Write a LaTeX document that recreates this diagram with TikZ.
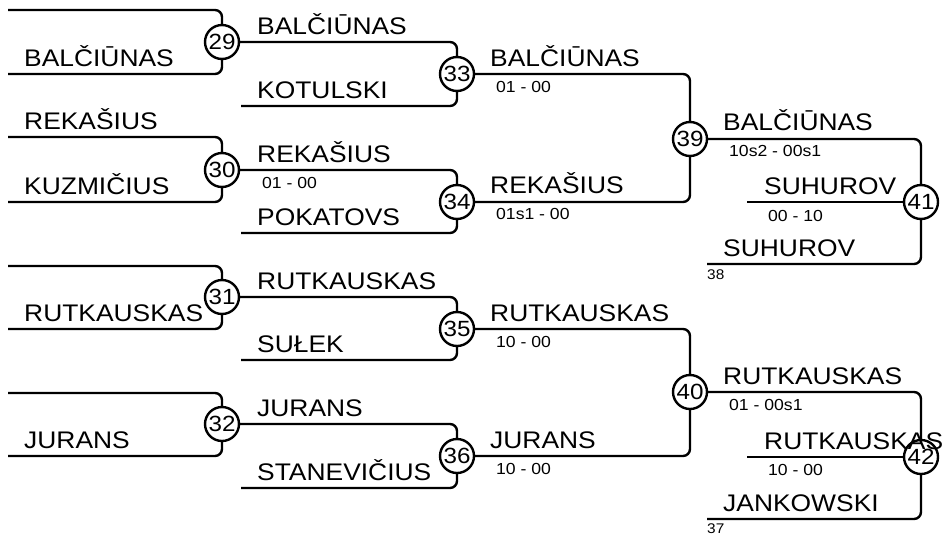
\documentclass[tikz,border=0pt]{standalone}
\usepackage{fontspec}
\setmainfont{Liberation Sans}[FakeStretch=1.1]
\tikzset{
  wire/.style={line width=2.4pt, rounded corners=7pt},
  mnum/.style={circle, draw, line width=2.4pt, fill=white, minimum size=34pt, inner sep=0pt, font=\fontsize{22}{22}\selectfont},
  pname/.style={anchor=base west, inner sep=0pt, font=\fontsize{24}{24}\selectfont},
  pscore/.style={anchor=base west, inner sep=0pt, font=\fontsize{16}{16}\selectfont},
  pseed/.style={anchor=base west, inner sep=0pt, font=\fontsize{14}{14}\selectfont},
}
\begin{document}
\begin{tikzpicture}[x=1pt,y=-1pt]
\useasboundingbox (0,0) rectangle (944,533);
% match circles
\node[mnum] (m29) at (222,42) {29};
\node[mnum] (m30) at (222,170) {30};
\node[mnum] (m31) at (222,297) {31};
\node[mnum] (m32) at (222,424) {32};
\node[mnum] (m33) at (457,74) {33};
\node[mnum] (m34) at (457,202) {34};
\node[mnum] (m35) at (457,329) {35};
\node[mnum] (m36) at (457,456) {36};
\node[mnum] (m39) at (690,139) {39};
\node[mnum] (m40) at (690,392) {40};
\node[mnum] (m41) at (921,202) {41};
\node[mnum] (m42) at (921,457) {42};
% line starts
\coordinate (t29) at (8,10);   \coordinate (b29) at (8,74);
\coordinate (t30) at (8,137);  \coordinate (b30) at (8,202);
\coordinate (t31) at (8,266);  \coordinate (b31) at (8,329);
\coordinate (t32) at (8,393);  \coordinate (b32) at (8,456);
\coordinate (b33) at (241,106); \coordinate (b34) at (241,233);
\coordinate (b35) at (241,360); \coordinate (b36) at (241,488);
\coordinate (c41) at (747,202); \coordinate (b41) at (707,264);
\coordinate (c42) at (747,457); \coordinate (b42) at (707,519);
% round 1
\draw[wire] (t29) -| (m29.north); \draw[wire] (b29) -| (m29.south);
\draw[wire] (t30) -| (m30.north); \draw[wire] (b30) -| (m30.south);
\draw[wire] (t31) -| (m31.north); \draw[wire] (b31) -| (m31.south);
\draw[wire] (t32) -| (m32.north); \draw[wire] (b32) -| (m32.south);
% round 2
\draw[wire] (m29.east) -| (m33.north); \draw[wire] (b33) -| (m33.south);
\draw[wire] (m30.east) -| (m34.north); \draw[wire] (b34) -| (m34.south);
\draw[wire] (m31.east) -| (m35.north); \draw[wire] (b35) -| (m35.south);
\draw[wire] (m32.east) -| (m36.north); \draw[wire] (b36) -| (m36.south);
% round 3
\draw[wire] (m33.east) -| (m39.north); \draw[wire] (m34.east) -| (m39.south);
\draw[wire] (m35.east) -| (m40.north); \draw[wire] (m36.east) -| (m40.south);
% round 4
\draw[wire] (m39.east) -| (m41.north); \draw[wire] (c41) -- (m41.west); \draw[wire] (b41) -| (m41.south);
\draw[wire] (m40.east) -| (m42.north); \draw[wire] (c42) -- (m42.west); \draw[wire] (b42) -| (m42.south);
% names round 1
\node[pname] (n1) at (24,66) {BALČIŪNAS};
\node[pname] (n2) at (24,129) {REKAŠIUS};
\node[pname] (n3) at (24,194) {KUZMIČIUS};
\node[pname] (n4) at (24,321) {RUTKAUSKAS};
\node[pname] (n5) at (24,448) {JURANS};
% names round 2
\node[pname] (n6) at (257,34) {BALČIŪNAS};
\node[pname] (n7) at (257,98) {KOTULSKI};
\node[pname] (n8) at (257,162) {REKAŠIUS};
\node[pscore] (s8) at (262,188) {01 - 00};
\node[pname] (n9) at (257,225) {POKATOVS};
\node[pname] (n10) at (257,289) {RUTKAUSKAS};
\node[pname] (n11) at (257,352) {SUŁEK};
\node[pname] (n12) at (257,416) {JURANS};
\node[pname] (n13) at (257,480) {STANEVIČIUS};
% names round 3
\node[pname] (n14) at (490,66) {BALČIŪNAS};
\node[pscore] (s14) at (496,92) {01 - 00};
\node[pname] (n15) at (490,193) {REKAŠIUS};
\node[pscore] (s15) at (496,219) {01s1 - 00};
\node[pname] (n16) at (490,321) {RUTKAUSKAS};
\node[pscore] (s16) at (496,347) {10 - 00};
\node[pname] (n17) at (490,448) {JURANS};
\node[pscore] (s17) at (496,474) {10 - 00};
% names round 4
\node[pname] (n18) at (723,130) {BALČIŪNAS};
\node[pscore] (s18) at (729,156) {10s2 - 00s1};
\node[pname] (n19) at (764,194) {SUHUROV};
\node[pscore] (s19) at (768,221) {00 - 10};
\node[pname] (n20) at (723,256) {SUHUROV};
\node[pseed] (d20) at (707,279) {38};
\node[pname] (n21) at (723,384) {RUTKAUSKAS};
\node[pscore] (s21) at (729,410) {01 - 00s1};
\node[pname] (n22) at (764,449) {RUTKAUSKAS};
\node[pscore] (s22) at (768,475) {10 - 00};
\node[pname] (n23) at (723,511) {JANKOWSKI};
\node[pseed] (d23) at (707,533) {37};
\end{tikzpicture}
\end{document}
